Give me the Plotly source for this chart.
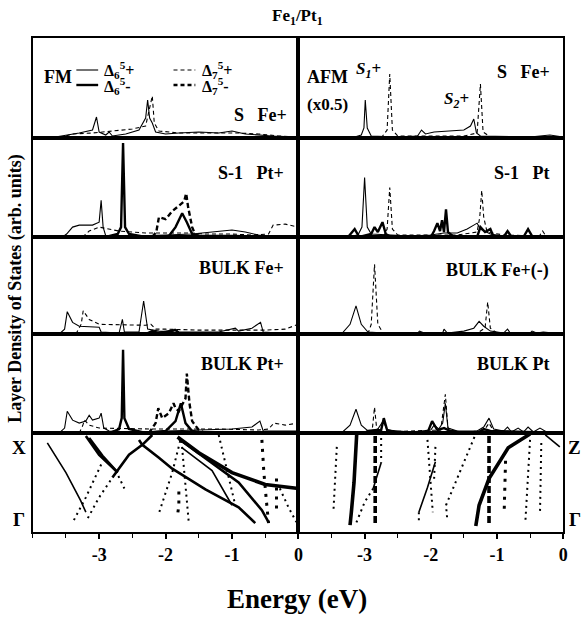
import plotly.graph_objects as go

# ---------------- data (energies in eV, DOS in arb. units 0..1) ----------------
ENERGY_TICKS = [-3, -2, -1, 0]
ENERGY_TICK_LABELS = ["-3", "-2", "-1", "0"]

# Row 1 : S Fe+ (FM) / S Fe+ (AFM)
FM_S_D6P = [(-3.75,0),(-3.55,0.02),(-3.3,0.05),(-3.1,0.08),(-3.04,0.21),(-3.0,0.06),(-2.9,0.03),(-2.85,0.06),
            (-2.8,0.02),(-2.6,0.04),(-2.4,0.08),(-2.3,0.2),(-2.27,0.38),(-2.24,0.2),(-2.2,0.15),(-2.15,0.06),
            (-2.0,0.04),(-1.8,0.05),(-1.5,0.06),(-1.2,0.05),(-1.0,0.07),(-0.8,0.04),(-0.6,0.03),(-0.4,0.02),(0,0.01)]
FM_S_D7P = [(-3.6,0),(-3.4,0.04),(-3.1,0.05),(-2.8,0.07),(-2.5,0.09),(-2.3,0.12),(-2.2,0.42),(-2.17,0.15),
            (-2.1,0.07),(-1.8,0.05),(-1.3,0.05),(-0.9,0.05),(-0.6,0.04),(-0.3,0.02),(0,0.01)]
AFM_S_D6P = [(-3.2,0),(-3.05,0.03),(-3.01,0.1),(-2.99,0.38),(-2.96,0.1),(-2.9,0.02),(-2.5,0.01),(-2.2,0.02),
             (-2.14,0.08),(-2.08,0.04),(-1.95,0.06),(-1.7,0.07),(-1.5,0.08),(-1.4,0.12),(-1.35,0.19),(-1.31,0.05),
             (-1.25,0.02),(-0.5,0.01),(-0.2,0.03),(0,0.01)]
AFM_S_D7P = [(-2.75,0),(-2.66,0.08),(-2.62,0.64),(-2.58,0.08),(-2.5,0.02),(-1.5,0.02),(-1.3,0.05),(-1.25,0.54),
             (-1.21,0.06),(-1.1,0.01),(0,0)]

# Row 2 : S-1 Pt+ / S-1 Pt
FM_S1_D6P = [(-3.55,0),(-3.49,0.03),(-3.4,0.1),(-3.3,0.12),(-3.1,0.12),(-3.0,0.15),(-2.97,0.37),(-2.94,0.1),
             (-2.9,0.01),(-2.5,0.01),(-2.0,0.02),(-1.6,0.03),(-1.3,0.05),(-1.0,0.07),(-0.8,0.05),(-0.6,0.02),
             (-0.4,0.01),(0,0)]
FM_S1_D6M = [(-2.9,0),(-2.72,0.03),(-2.67,0.1),(-2.64,0.95),(-2.61,0.1),(-2.55,0.03),(-2.3,0),(-1.95,0.01),
             (-1.85,0.1),(-1.75,0.24),(-1.68,0.15),(-1.6,0.03),(-1.5,0.01),(-1.0,0.01),(0,0)]
FM_S1_D7P = [(-3.25,0),(-3.15,0.06),(-3.0,0.1),(-2.85,0.08),(-2.7,0.06),(-2.5,0.05),(-2.3,0.04),(-2.0,0.04),
             (-1.6,0.04),(-1.4,0.03),(-1.0,0.03),(-0.7,0.02),(-0.45,0.03),(-0.38,0.12),(-0.2,0.13),(0,0.1)]
FM_S1_D7M = [(-2.2,0),(-2.14,0.05),(-2.1,0.2),(-2.0,0.18),(-1.9,0.26),(-1.8,0.32),(-1.72,0.36),(-1.69,0.44),
             (-1.66,0.3),(-1.6,0.1),(-1.55,0.02),(-1.4,0)]
AFM_S1_D6P = [(-3.3,0),(-3.1,0.02),(-3.04,0.1),(-3.0,0.6),(-2.96,0.1),(-2.9,0.03),(-2.6,0.02),(-2.3,0.01),
              (-2.0,0.02),(-1.8,0.04),(-1.6,0.04),(-1.45,0.08),(-1.35,0.12),(-1.3,0.14),(-1.25,0.08),(-1.1,0.03),
              (-0.9,0.01),(0,0)]
AFM_S1_D7P = [(-2.72,0),(-2.66,0.08),(-2.62,0.5),(-2.58,0.08),(-2.5,0.02),(-1.6,0.02),(-1.3,0.05),(-1.26,0.2),
              (-1.23,0.47),(-1.2,0.2),(-1.15,0.05),(-0.9,0.02),(-0.36,0.01),(-0.31,0.06),(-0.26,0.01),(0,0)]
AFM_S1_D6M = [(-3.25,0),(-3.15,0.08),(-3.08,0),(-2.9,0.03),(-2.85,0.1),(-2.8,0.05),(-2.73,0.15),(-2.68,0.03),
              (-2.6,0),(-2.0,0),(-1.95,0.06),(-1.9,0.14),(-1.86,0.06),(-1.83,0.17),(-1.8,0.05),(-1.77,0.28),
              (-1.74,0.05),(-1.65,0),(-1.3,0),(-1.25,0.1),(-1.18,0.05),(-1.1,0.08),(-1.05,0),(-0.9,0),
              (-0.84,0.06),(-0.78,0),(-0.6,0),(-0.53,0.08),(-0.46,0),(0,0)]

# Row 3 : BULK Fe+ / BULK Fe+(-)
FM_BFE_D6P = [(-3.6,0),(-3.52,0.05),(-3.48,0.23),(-3.4,0.12),(-3.3,0.08),(-3.1,0.07),(-3.0,0.07),(-2.97,0.02),
              (-2.7,0.01),(-2.65,0.15),(-2.62,0.02),(-2.4,0.02),(-2.33,0.34),(-2.27,0.05),(-2.1,0.03),(-1.9,0.02),
              (-1.86,0.05),(-1.8,0.02),(-1.2,0.02),(-0.95,0.06),(-0.9,0.03),(-0.7,0.06),(-0.57,0.12),(-0.53,0.02),
              (-0.3,0.01),(0,0.01)]
FM_BFE_D7P = [(-3.35,0),(-3.27,0.1),(-3.24,0.24),(-3.15,0.15),(-3.0,0.1),(-2.6,0.09),(-2.3,0.09),(-2.22,0.1),
              (-2.15,0.05),(-2.0,0.05),(-1.5,0.04),(-1.0,0.04),(-0.5,0.04),(-0.2,0.05),(0,0.1)]
FM_BFE_D6M = [(-2.3,0),(-2.2,0.03),(-2.1,0.01),(-1.85,0.04),(-1.8,0.01),(-1.0,0),(0,0)]
AFM_BFE_D6P = [(-3.35,0),(-3.22,0.1),(-3.13,0.29),(-3.05,0.1),(-2.95,0.02),(-2.7,0.01),(-2.2,0.01),(-2.17,0.03),
               (-2.1,0.01),(-1.82,0.01),(-1.8,0.05),(-1.75,0.01),(-1.5,0.03),(-1.35,0.06),(-1.27,0.13),(-1.2,0.08),
               (-1.1,0.03),(-0.9,0.01),(-0.84,0.05),(-0.8,0.01),(-0.5,0.01),(-0.47,0.03),(-0.4,0.01),(-0.3,0.02),(0,0)]
AFM_BFE_D7P = [(-2.95,0),(-2.9,0.1),(-2.85,0.72),(-2.8,0.1),(-2.72,0.01),(-1.3,0.01),(-1.18,0.06),(-1.14,0.33),
               (-1.1,0.06),(-1.0,0.01),(0,0)]

# Row 4 : BULK Pt+ / BULK Pt
FM_BPT_D6P = [(-3.6,0),(-3.52,0.05),(-3.48,0.22),(-3.4,0.13),(-3.3,0.1),(-3.2,0.12),(-3.15,0.18),(-3.1,0.13),
              (-3.0,0.15),(-2.97,0.2),(-2.93,0.05),(-2.85,0.02),(-2.5,0.01),(-2.0,0.02),(-1.5,0.03),(-1.0,0.04),
              (-0.7,0.06),(-0.58,0.12),(-0.53,0.02),(-0.4,0.02),(0,0.02)]
FM_BPT_D6M = [(-2.85,0),(-2.7,0.04),(-2.66,0.15),(-2.64,0.84),(-2.62,0.15),(-2.55,0.04),(-2.3,0),(-2.0,0.02),
              (-1.85,0.12),(-1.77,0.3),(-1.7,0.1),(-1.6,0.02),(-1.4,0),(0,0)]
FM_BPT_D7P = [(-3.3,0),(-3.25,0.07),(-3.22,0.13),(-3.15,0.08),(-3.0,0.05),(-2.5,0.04),(-2.2,0.04),(-1.6,0.04),
              (-1.2,0.04),(-0.6,0.03),(-0.45,0.04),(-0.37,0.1),(-0.2,0.08),(0,0.1)]
FM_BPT_D7M = [(-2.25,0),(-2.15,0.1),(-2.11,0.25),(-2.05,0.15),(-1.95,0.2),(-1.88,0.3),(-1.85,0.25),(-1.8,0.22),
              (-1.7,0.35),(-1.68,0.6),(-1.64,0.3),(-1.6,0.12),(-1.5,0.03),(-1.4,0)]
AFM_BPT_D6P = [(-3.35,0),(-3.22,0.08),(-3.13,0.24),(-3.05,0.08),(-2.95,0.02),(-2.8,0.04),(-2.72,0.12),(-2.66,0.03),
               (-2.3,0.01),(-2.0,0.03),(-1.95,0.08),(-1.88,0.04),(-1.82,0.1),(-1.78,0.3),(-1.74,0.05),(-1.6,0.02),
               (-1.3,0.02),(-1.2,0.06),(-1.12,0.15),(-1.05,0.04),(-0.9,0.02),(-0.84,0.06),(-0.78,0.01),(-0.68,0.05),
               (-0.6,0.01),(-0.53,0.06),(-0.45,0.01),(-0.35,0.05),(-0.25,0.01),(0,0)]
AFM_BPT_D7P = [(-2.95,0),(-2.88,0.06),(-2.85,0.26),(-2.82,0.06),(-2.75,0.01),(-1.85,0.03),(-1.78,0.39),(-1.74,0.05),
               (-1.6,0.01),(-1.2,0.02),(-1.12,0.1),(-1.05,0.02),(0,0)]
AFM_BPT_D6M = [(-3.0,0),(-2.95,0.02),(-2.75,0.03),(-2.71,0.15),(-2.66,0.03),(-2.5,0),(-2.05,0),(-1.98,0.12),
               (-1.9,0.03),(-1.8,0.05),(-1.7,0.02),(-1.5,0),(-1.3,0),(-1.2,0.04),(-1.1,0.02),(0,0)]

# Row 5 : bands, k from Gamma (0) to X / Z (1)
FM_BANDS = [
    ("thin",  [(-3.78,0.90),(-3.5,0.6),(-3.28,0.32),(-3.2,0.2)]),
    ("dot",   [(-3.38,0.12),(-3.2,0.35),(-2.95,0.71)]),
    ("dot",   [(-3.17,0.14),(-3.0,0.35),(-2.8,0.55)]),
    ("thick", [(-2.8,0.55),(-2.55,0.78),(-2.35,0.88),(-2.2,0.98)]),
    ("thick", [(-3.20,0.97),(-3.0,0.78),(-2.75,0.62)]),
    ("dot",   [(-2.75,0.62),(-2.62,0.44)]),
    ("thick", [(-3.15,0.95),(-2.95,0.77),(-2.72,0.6)]),
    ("thick", [(-2.40,0.93),(-2.35,0.88),(-2.1,0.75),(-1.9,0.64),(-1.4,0.43),(-0.9,0.25),(-0.65,0.09)]),
    ("dot",   [(-1.78,0.92),(-1.9,0.6),(-2.1,0.19)]),
    ("dot",   [(-1.76,0.92),(-1.72,0.6),(-1.65,0.09)]),
    ("bigdot",[(-1.80,0.41),(-1.80,0.27),(-1.82,0.17)]),
    ("heavy", [(-1.82,0.96),(-1.5,0.8),(-1.0,0.6),(-0.5,0.48),(0,0.44)]),
    ("thick", [(-1.80,0.94),(-1.3,0.7),(-0.9,0.5),(-0.55,0.22),(-0.45,0.1)]),
    ("thin",  [(-1.75,0.85),(-1.3,0.62),(-1.0,0.27)]),
    ("dot",   [(-1.2,0.98),(-1.1,0.7),(-0.95,0.27)]),
    ("bigdot",[(-0.55,0.93),(-0.52,0.6),(-0.48,0.3),(-0.45,0.09)]),
    ("bigdot",[(-0.33,0.54),(-0.33,0.2)]),
    ("dot",   [(-0.28,0.44),(-0.15,0.25),(-0.03,0.10)]),
]
AFM_BANDS = [
    ("dot",   [(-3.42,0.86),(-3.47,0.22)]),
    ("heavy", [(-3.12,0.98),(-3.16,0.5),(-3.2,0.2),(-3.22,0.07)]),
    ("dash",  [(-2.84,0.97),(-2.84,0.07)]),
    ("dot",   [(-2.75,0.95),(-2.75,0.7)]),
    ("thin",  [(-2.75,0.7),(-2.87,0.44)]),
    ("dot",   [(-2.87,0.44),(-3.0,0.3),(-3.14,0.07)]),
    ("dot",   [(-2.05,0.93),(-1.97,0.2)]),
    ("dot",   [(-1.93,0.86),(-1.95,0.53)]),
    ("thin",  [(-1.93,0.71),(-2.05,0.45),(-2.18,0.2)]),
    ("dot",   [(-2.18,0.2),(-2.18,0.09)]),
    ("dot",   [(-1.34,0.96),(-1.55,0.62),(-1.77,0.27),(-1.75,0.12)]),
    ("dash",  [(-1.12,0.97),(-1.12,0.07)]),
    ("heavy", [(-0.50,0.99),(-0.83,0.85),(-1.12,0.54),(-1.27,0.27),(-1.32,0.06)]),
    ("bigdot",[(-0.87,0.72),(-0.89,0.23)]),
    ("dot",   [(-0.5,0.93),(-0.57,0.11)]),
    ("dot",   [(-0.33,0.90),(-0.35,0.18)]),
    ("thin",  [(-0.27,0.98),(-0.05,0.86)]),
]

# ---------------- layout geometry (pixels) ----------------
W, H = 584, 622
COL_PX = [(33, 301), (301, 568)]
ROW_PX = [38, 138, 237, 334, 433, 532]
FONT = "Liberation Serif"

def px(x):
    return x / W

def py(y):
    return 1 - y / H

STYLES = {
    "D6P": dict(color="black", width=1.1),
    "D6M": dict(color="black", width=2.4),
    "D7P": dict(color="black", width=1.1, dash="4px,3px"),
    "D7M": dict(color="black", width=2.4, dash="5px,3px"),
    "thin": dict(color="black", width=1.6),
    "thick": dict(color="black", width=2.6),
    "heavy": dict(color="black", width=3.6),
    "dot": dict(color="black", width=2.0, dash="2px,4px"),
    "bigdot": dict(color="black", width=3.0, dash="3px,6px"),
    "dash": dict(color="black", width=3.6, dash="7px,3px"),
}

fig = go.Figure()

def add_curve(pts, style, n):
    fig.add_trace(go.Scatter(
        x=[p[0] for p in pts], y=[p[1] for p in pts], mode="lines",
        line=STYLES[style], xaxis="x" if n == 1 else f"x{n}", yaxis="y" if n == 1 else f"y{n}",
        showlegend=False, hoverinfo="skip"))

PANELS = [
    [[(FM_S_D6P, "D6P"), (FM_S_D7P, "D7P")], [(AFM_S_D6P, "D6P"), (AFM_S_D7P, "D7P")]],
    [[(FM_S1_D6P, "D6P"), (FM_S1_D7P, "D7P"), (FM_S1_D6M, "D6M"), (FM_S1_D7M, "D7M")],
     [(AFM_S1_D6P, "D6P"), (AFM_S1_D7P, "D7P"), (AFM_S1_D6M, "D6M")]],
    [[(FM_BFE_D6P, "D6P"), (FM_BFE_D7P, "D7P"), (FM_BFE_D6M, "D6M")],
     [(AFM_BFE_D6P, "D6P"), (AFM_BFE_D7P, "D7P")]],
    [[(FM_BPT_D6P, "D6P"), (FM_BPT_D7P, "D7P"), (FM_BPT_D6M, "D6M"), (FM_BPT_D7M, "D7M")],
     [(AFM_BPT_D6P, "D6P"), (AFM_BPT_D7P, "D7P"), (AFM_BPT_D6M, "D6M")]],
    [[(pts, st) for st, pts in FM_BANDS], [(pts, st) for st, pts in AFM_BANDS]],
]

layout = {}
for r in range(5):
    for c in range(2):
        n = r * 2 + c + 1
        for pts, st in PANELS[r][c]:
            add_curve(pts, st, n)
        bottom = (r == 4)
        xa = dict(domain=[px(COL_PX[c][0]), px(COL_PX[c][1])], range=[-4, 0],
                  anchor="y" if n == 1 else f"y{n}",
                  showline=True, mirror=True, linecolor="black", linewidth=2,
                  showgrid=False, zeroline=False, fixedrange=True)
        if bottom:
            xa.update(tickvals=ENERGY_TICKS, ticktext=ENERGY_TICK_LABELS, ticks="outside",
                      ticklen=5, tickwidth=1.5, tickcolor="black",
                      minor=dict(dtick=0.5, ticks="outside", ticklen=4, tickwidth=1.2, tickcolor="black"),
                      tickfont=dict(family=FONT, size=18, color="black", weight="bold"))
        else:
            xa.update(showticklabels=False, ticks="")
        ya = dict(domain=[py(ROW_PX[r + 1]), py(ROW_PX[r])], range=[0, 1],
                  anchor="x" if n == 1 else f"x{n}",
                  showline=True, mirror=True, linecolor="black", linewidth=2,
                  showgrid=False, zeroline=False, showticklabels=False, ticks="", fixedrange=True)
        layout["xaxis" if n == 1 else f"xaxis{n}"] = xa
        layout["yaxis" if n == 1 else f"yaxis{n}"] = ya

def ann(text, x, y, size=18, angle=0, xanchor="center"):
    return dict(text=text, x=px(x), y=py(y), xref="paper", yref="paper", showarrow=False,
                xanchor=xanchor, yanchor="middle", textangle=angle,
                font=dict(family=FONT, size=size, color="black", weight="bold"))

annotations = [
    ann("Fe<sub>1</sub>/Pt<sub>1</sub>", 300, 17, size=17),
    ann("FM", 59, 77, size=18),
    ann("Δ<sub>6</sub><sup>5</sup>+", 103, 70, size=16, xanchor="left"),
    ann("Δ<sub>6</sub><sup>5</sup>-", 103, 86, size=16, xanchor="left"),
    ann("Δ<sub>7</sub><sup>5</sup>+", 202, 70, size=16, xanchor="left"),
    ann("Δ<sub>7</sub><sup>5</sup>-", 202, 86, size=16, xanchor="left"),
    ann("S   Fe+", 291, 115, size=18, xanchor="right"),
    ann("AFM", 330, 77, size=18),
    ann("(x0.5)", 330, 104, size=17),
    ann("<i>S<sub>1</sub></i>+", 372, 70, size=17),
    ann("<i>S<sub>2</sub></i>+", 460, 100, size=17),
    ann("S   Fe+", 557, 72, size=18, xanchor="right"),
    ann("S-1   Pt+", 288, 173, size=18, xanchor="right"),
    ann("S-1   Pt", 557, 173, size=18, xanchor="right"),
    ann("BULK Fe+", 288, 268, size=18, xanchor="right"),
    ann("BULK Fe+(-)", 556, 270, size=18, xanchor="right"),
    ann("BULK Pt+", 288, 364, size=18, xanchor="right"),
    ann("BULK Pt", 557, 364, size=18, xanchor="right"),
    ann("X", 19, 447, size=19),
    ann("Γ", 19, 519, size=19),
    ann("Z", 579, 447, size=19),
    ann("Γ", 580, 519, size=19),
    ann("Layer Density of States (arb. units)", 15, 288, size=18, angle=-90),
    ann("Energy (eV)", 300, 599, size=27),
]

shapes = [
    dict(type="line", xref="paper", yref="paper", x0=px(77), x1=px(99), y0=py(70), y1=py(70),
         line=dict(color="black", width=1.1)),
    dict(type="line", xref="paper", yref="paper", x0=px(77), x1=px(99), y0=py(85), y1=py(85),
         line=dict(color="black", width=2.4)),
    dict(type="line", xref="paper", yref="paper", x0=px(175), x1=px(197), y0=py(70), y1=py(70),
         line=dict(color="black", width=1.1, dash="4px,3px")),
    dict(type="line", xref="paper", yref="paper", x0=px(175), x1=px(197), y0=py(85), y1=py(85),
         line=dict(color="black", width=2.4, dash="4px,3px")),
]

fig.update_layout(
    width=W, height=H, autosize=False,
    margin=dict(l=0, r=0, t=0, b=0),
    paper_bgcolor="white", plot_bgcolor="white",
    showlegend=False,
    annotations=annotations, shapes=shapes,
    **layout,
)

fig.write_html("out.html")
